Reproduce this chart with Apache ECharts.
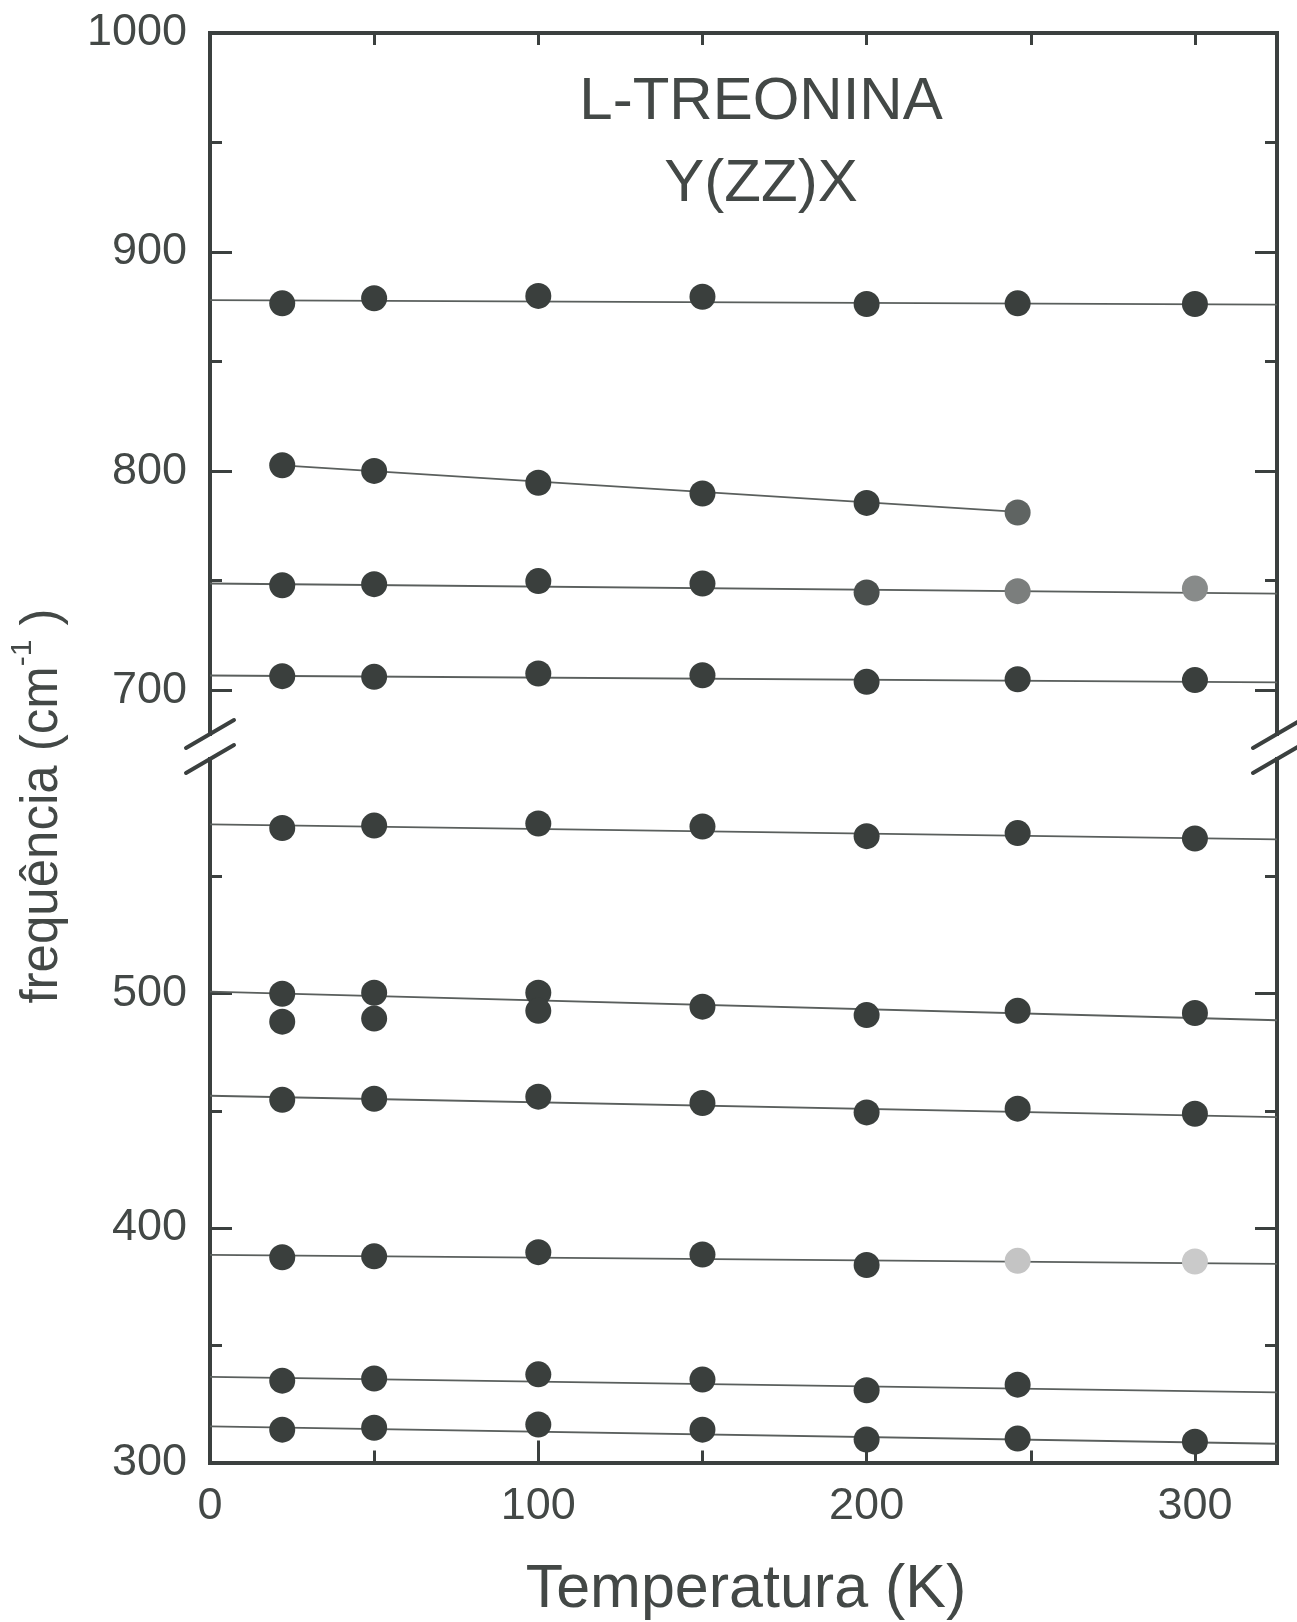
<!DOCTYPE html>
<html>
<head>
<meta charset="utf-8">
<title>L-TREONINA Y(ZZ)X</title>
<script src="https://cdn.jsdelivr.net/npm/echarts@6/dist/echarts.min.js"></script>
<style>
  html, body { margin: 0; padding: 0; background: #ffffff; }
  #chart { width: 1297px; height: 1622px; }
</style>
</head>
<body>
<div id="chart"></div>
<script>
// Temperatures (K) at which the Raman spectra were taken
const temperatures = [22, 50, 100, 150, 200, 246, 300];

// Mode frequencies (cm-1) versus temperature
const mode877 = [876.6, 878.9, 880.0, 879.6, 876.3, 876.6, 876.3];
const mode792 = [802.7, 800.1, 794.7, 789.8, 785.5, 781.1];          // 22 .. 246 K
const mode747 = [747.9, 748.4, 749.8, 748.7, 744.6, 745.2, 746.4];
const mode706 = [706.4, 706.1, 707.6, 706.8, 703.8, 705.0, 704.6];
const mode570 = [570.6, 571.6, 572.5, 571.2, 567.1, 568.4, 566.1];
const mode496 = [499.9, 500.3, 500.3, 494.4, 490.8, 492.6, 491.7];
const mode490 = [488.0, 489.3, 492.6];                               // 22 .. 100 K
const mode452 = [454.7, 455.1, 456.0, 453.3, 449.3, 450.9, 448.7];
const mode387 = [387.5, 387.9, 389.7, 388.7, 384.2, 386.0, 385.7];
const mode334 = [334.9, 335.8, 337.6, 335.4, 330.8, 333.2];          // 22 .. 246 K
const mode312 = [314.0, 314.8, 316.2, 314.0, 309.8, 310.2, 308.9];

// Linear fits: temperature span and the fitted frequency at each end
const fitSpan = [0, 325];
const fitSpan792 = [22, 246];
const fit877 = [878.1, 876.0];
const fit792 = [802.6, 781.4];
const fit747 = [748.7, 744.1];
const fit706 = [706.7, 703.6];
const fit570 = [572.1, 565.7];
const fit496 = [500.8, 488.6];
const fit452 = [456.4, 447.3];
const fit387 = [388.5, 384.7];
const fit334 = [336.5, 329.9];
const fit312 = [315.4, 308.0];

// Axis ranges and ticks (broken frequency axis)
const tempRange = [0, 325];
const tempLabels = [0, 100, 200, 300];
const tempMajor = [100, 200, 300];
const tempMinor = [50, 150, 250];
const tempTop = [50, 100, 150, 200, 250, 300];
const upperRange = [680, 1000];
const upperLabels = [700, 800, 900, 1000];
const upperMinor = [750, 850, 950];
const lowerRange = [300, 600];
const lowerLabels = [300, 400, 500];
const lowerMinor = [350, 450, 550];

// ---- layout and styling ----
const FONT = 'Liberation Sans, Arial, Helvetica, sans-serif';
const INK = '#3b403f';
const TEXT = '#434846';
const DOT = '#3a3f3d';
const FIT = '#5a5f5d';
const PLOT_LEFT = 210;
const PLOT_RIGHT = 1277;
const UPPER_TOP = 33;
const UPPER_BOTTOM = 734;
const LOWER_TOP = 759;
const LOWER_BOTTOM = 1462.5;
const W = 1297;

// lighter, worn-looking markers
const markerTone = {
  792: { 5: '#5f6462' },
  747: { 4: '#4a4f4d', 5: '#7b7e7d', 6: '#888b8a' },
  387: { 5: '#c4c4c4', 6: '#cacaca' }
};

const frame = { lineStyle: { color: INK, width: 4, cap: 'square' } };
const labelStyle = {
  color: TEXT, fontSize: 45, fontFamily: FONT,
  formatter: function (v) { return String(v); }
};

function xAxisDef(grid, position, opts) {
  return Object.assign({
    type: 'value', gridIndex: grid, position: position,
    min: tempRange[0], max: tempRange[1],
    splitLine: { show: false },
    axisLine: { show: false },
    axisLabel: { show: false },
    axisTick: { show: false }
  }, opts);
}
function yAxisDef(grid, position, range, opts) {
  return Object.assign({
    type: 'value', gridIndex: grid, position: position,
    min: range[0], max: range[1],
    splitLine: { show: false },
    axisLine: { show: false },
    axisLabel: { show: false },
    axisTick: { show: false }
  }, opts);
}
function ticks(values, len) {
  return { show: true, inside: true, length: len, customValues: values,
           lineStyle: { color: INK, width: 3 } };
}

const xAxes = [
  // 0: top frame of upper panel
  xAxisDef(0, 'top', { axisLine: Object.assign({ show: true }, frame), axisTick: ticks(tempTop, 12) }),
  // 1: bottom frame of lower panel, with labels
  xAxisDef(1, 'bottom', {
    axisLine: Object.assign({ show: true }, frame),
    axisTick: ticks(tempMajor, 22),
    axisLabel: Object.assign({ show: true, margin: 22, customValues: tempLabels }, labelStyle)
  }),
  // 2: minor ticks on the lower panel
  xAxisDef(1, 'bottom', { axisTick: ticks(tempMinor, 12) })
];

function panelY(grid, range, labels, minor) {
  return [
    yAxisDef(grid, 'left', range, {
      axisLine: Object.assign({ show: true }, frame),
      axisTick: ticks(labels, 22),
      axisLabel: Object.assign({ show: true, margin: 23, customValues: labels }, labelStyle)
    }),
    yAxisDef(grid, 'left', range, { axisTick: ticks(minor, 12) }),
    yAxisDef(grid, 'right', range, {
      axisLine: Object.assign({ show: true }, frame),
      axisTick: ticks(labels, 22)
    }),
    yAxisDef(grid, 'right', range, { axisTick: ticks(minor, 12) })
  ];
}
const yAxes = panelY(0, upperRange, upperLabels, upperMinor)
  .concat(panelY(1, lowerRange, lowerLabels, lowerMinor));

const modes = [
  { id: 877, values: mode877, fit: fit877, span: fitSpan, panel: 0 },
  { id: 792, values: mode792, fit: fit792, span: fitSpan792, panel: 0 },
  { id: 747, values: mode747, fit: fit747, span: fitSpan, panel: 0 },
  { id: 706, values: mode706, fit: fit706, span: fitSpan, panel: 0 },
  { id: 570, values: mode570, fit: fit570, span: fitSpan, panel: 1 },
  { id: 496, values: mode496, fit: fit496, span: fitSpan, panel: 1 },
  { id: 490, values: mode490, fit: null, span: null, panel: 1 },
  { id: 452, values: mode452, fit: fit452, span: fitSpan, panel: 1 },
  { id: 387, values: mode387, fit: fit387, span: fitSpan, panel: 1 },
  { id: 334, values: mode334, fit: fit334, span: fitSpan, panel: 1 },
  { id: 312, values: mode312, fit: fit312, span: fitSpan, panel: 1 }
];

const series = [];
modes.forEach(function (m) {
  const xi = m.panel === 0 ? 0 : 1;
  const yi = m.panel === 0 ? 0 : 4;
  if (m.fit) {
    series.push({
      type: 'line', name: 'fit ' + m.id, xAxisIndex: xi, yAxisIndex: yi,
      data: [[m.span[0], m.fit[0]], [m.span[1], m.fit[1]]],
      symbol: 'none', silent: true, z: 2,
      lineStyle: { color: FIT, width: 1.8 }
    });
  }
  const tones = markerTone[m.id] || {};
  series.push({
    type: 'scatter', name: 'mode ' + m.id, xAxisIndex: xi, yAxisIndex: yi,
    symbol: 'circle', symbolSize: 26, z: 3,
    itemStyle: { color: DOT, opacity: 1 },
    data: m.values.map(function (v, i) {
      const point = { value: [temperatures[i], v] };
      if (tones[i]) point.itemStyle = { color: tones[i] };
      return point;
    })
  });
});

// axis-break slashes on both frame sides
function breakMarks(x) {
  return [UPPER_BOTTOM, LOWER_TOP].map(function (y) {
    return {
      type: 'line', z: 10,
      shape: { x1: x - 24, y1: y + 14, x2: x + 24, y2: y - 14 },
      style: { stroke: INK, lineWidth: 4, lineCap: 'round' }
    };
  });
}

const graphics = breakMarks(PLOT_LEFT).concat(breakMarks(PLOT_RIGHT)).concat([
  { type: 'text', x: 761, y: 102, z: 10,
    style: { text: 'L-TREONINA', fill: TEXT, font: '60px ' + FONT, align: 'center', verticalAlign: 'middle' } },
  { type: 'text', x: 761, y: 184, z: 10,
    style: { text: 'Y(ZZ)X', fill: TEXT, font: '60px ' + FONT, align: 'center', verticalAlign: 'middle' } },
  { type: 'text', x: 746, y: 1590, z: 10,
    style: { text: 'Temperatura (K)', fill: TEXT, font: '61px ' + FONT, align: 'center', verticalAlign: 'middle' } },
  { type: 'text', x: 38, y: 806, rotation: Math.PI / 2, z: 10,
    style: {
      text: '{m|frequência (cm}{s|-1}{m| )}',
      align: 'center', verticalAlign: 'middle',
      rich: {
        m: { fill: TEXT, fontSize: 51, fontFamily: FONT, lineHeight: 60, verticalAlign: 'bottom' },
        s: { fill: TEXT, fontSize: 30, fontFamily: FONT, lineHeight: 30, verticalAlign: 'top' }
      }
    } }
]);

const chart = echarts.init(document.getElementById('chart'), null, { renderer: 'canvas' });
chart.setOption({
  animation: false,
  backgroundColor: '#ffffff',
  grid: [
    { left: PLOT_LEFT, right: W - PLOT_RIGHT, top: UPPER_TOP, height: UPPER_BOTTOM - UPPER_TOP, containLabel: false },
    { left: PLOT_LEFT, right: W - PLOT_RIGHT, top: LOWER_TOP, height: LOWER_BOTTOM - LOWER_TOP, containLabel: false }
  ],
  xAxis: xAxes,
  yAxis: yAxes,
  series: series,
  graphic: graphics
});
</script>
</body>
</html>
